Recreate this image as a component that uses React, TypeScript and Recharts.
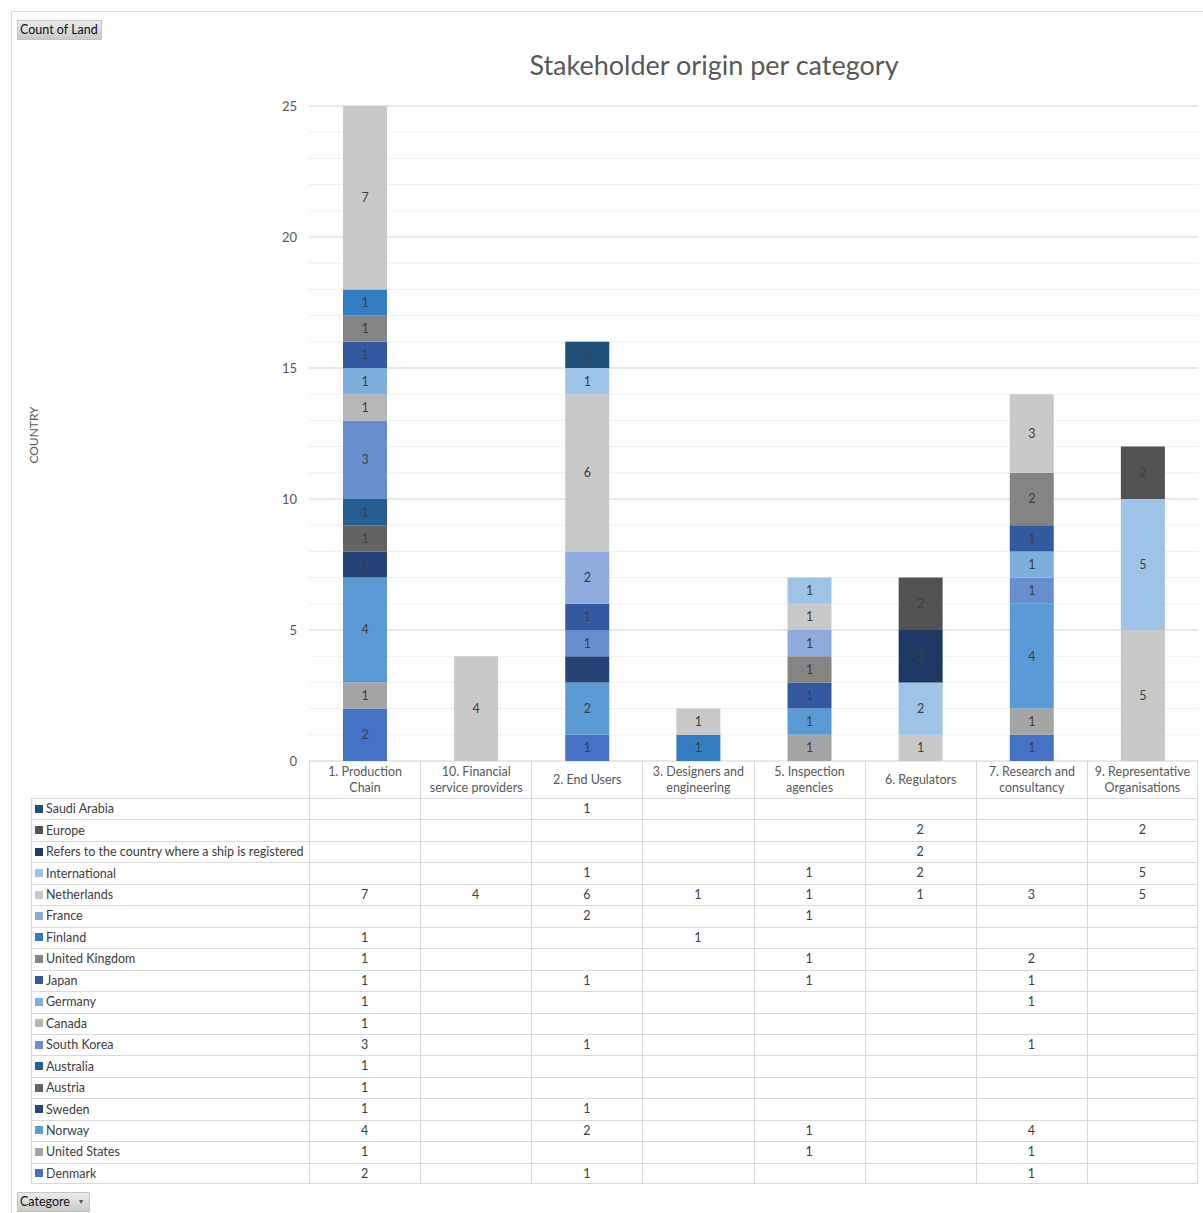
import React from 'react';
import { BarChart, Bar, XAxis, YAxis, CartesianGrid, LabelList } from 'recharts';

const categories = [
  '1. Production Chain',
  '10. Financial service providers',
  '2. End Users',
  '3. Designers and engineering',
  '5. Inspection agencies',
  '6. Regulators',
  '7. Research and consultancy',
  '9. Representative Organisations',
];
const categoryLines = [
  ['1. Production', 'Chain'],
  ['10. Financial', 'service providers'],
  ['2. End Users'],
  ['3. Designers and', 'engineering'],
  ['5. Inspection', 'agencies'],
  ['6. Regulators'],
  ['7. Research and', 'consultancy'],
  ['9. Representative', 'Organisations'],
];

// stacking order, bottom to top
const countries = [
  'Denmark', 'United States', 'Norway', 'Sweden', 'Austria', 'Australia', 'South Korea', 'Canada',
  'Germany', 'Japan', 'United Kingdom', 'Finland', 'France', 'Netherlands', 'International',
  'Refers to the country where a ship is registered', 'Europe', 'Saudi Arabia',
];
const colors = [
  '#4472C4', '#A5A5A5', '#5B9BD5', '#264478', '#636363', '#255E91', '#698ED0', '#B7B7B7',
  '#7CAFDD', '#335AA1', '#848484', '#327DC2', '#8FAADC', '#C9C9C9', '#9DC3E6',
  '#203864', '#525252', '#1F4E79',
];

const denmark = [2, 0, 1, 0, 0, 0, 1, 0];
const unitedStates = [1, 0, 0, 0, 1, 0, 1, 0];
const norway = [4, 0, 2, 0, 1, 0, 4, 0];
const sweden = [1, 0, 1, 0, 0, 0, 0, 0];
const austria = [1, 0, 0, 0, 0, 0, 0, 0];
const australia = [1, 0, 0, 0, 0, 0, 0, 0];
const southKorea = [3, 0, 1, 0, 0, 0, 1, 0];
const canada = [1, 0, 0, 0, 0, 0, 0, 0];
const germany = [1, 0, 0, 0, 0, 0, 1, 0];
const japan = [1, 0, 1, 0, 1, 0, 1, 0];
const unitedKingdom = [1, 0, 0, 0, 1, 0, 2, 0];
const finland = [1, 0, 0, 1, 0, 0, 0, 0];
const france = [0, 0, 2, 0, 1, 0, 0, 0];
const netherlands = [7, 4, 6, 1, 1, 1, 3, 5];
const international = [0, 0, 1, 0, 1, 2, 0, 5];
const flagState = [0, 0, 0, 0, 0, 2, 0, 0];
const europe = [0, 0, 0, 0, 0, 2, 0, 2];
const saudiArabia = [0, 0, 1, 0, 0, 0, 0, 0];

const seriesValues = [
  denmark, unitedStates, norway, sweden, austria, australia, southKorea, canada,
  germany, japan, unitedKingdom, finland, france, netherlands, international,
  flagState, europe, saudiArabia,
];

const yDomain = [0, 25];
const yTicks = [0, 5, 10, 15, 20, 25];
const minorTicks = Array.from({ length: 26 }, (_, i) => i);

const data = categories.map((c, ci) => {
  const row: any = { category: c };
  countries.forEach((k, si) => {
    row['s' + si] = seriesValues[si][ci];
  });
  return row;
});

const FONT = 'Lato, "Liberation Sans", sans-serif';
const W = 1203;
const PLOT_LEFT = 309;
const PLOT_RIGHT = 1198;
const PLOT_TOP = 106;
const PLOT_BOTTOM = 761;
const COL_W = (PLOT_RIGHT - PLOT_LEFT) / categories.length;
const HEADER_BOTTOM = 798;
const ROW_H = 21.45;
const TABLE_LEFT = 31;
const GRID = '#D9D9D9';

const btnStyle: React.CSSProperties = {
  position: 'absolute',
  background: 'linear-gradient(#ececec, #c9c9c9)',
  border: '1px solid #c4c4c4',
  fontSize: 12.5,
  color: '#111',
  lineHeight: '18px',
  paddingLeft: 2,
  boxSizing: 'border-box',
  height: 20,
};

const minorGenerator = (props: any) => {
  const scale = props && props.yAxis && props.yAxis.scale;
  const off = (props && props.offset) || {};
  return minorTicks.map((t) => {
    if (typeof scale === 'function') return scale(t);
    if (scale && typeof scale.map === 'function') return scale.map(t);
    if (scale && typeof scale.scale === 'function') return scale.scale(t);
    return off.top + off.height * (1 - (t - yDomain[0]) / (yDomain[1] - yDomain[0]));
  });
};

export default function App() {
  const rows = countries.map((_, i) => i).reverse();
  return (
    <div style={{ position: 'absolute', left: 0, top: 0, width: W, height: 1213, background: '#fff', fontFamily: FONT, overflow: 'hidden' }}>
      <div style={{ position: 'absolute', left: 11, top: 11, width: W - 11, height: 1213, borderTop: '1px solid ' + GRID, borderLeft: '1px solid ' + GRID }} />
      <div style={{ ...btnStyle, left: 17, top: 20, width: 85 }}>Count of Land</div>
      <div style={{ ...btnStyle, left: 17, top: 1192, width: 73 }}>
        Categore<span style={{ position: 'absolute', left: 61, top: -1, fontSize: 8, color: '#555' }}>▾</span>
      </div>
      <div style={{ position: 'absolute', left: 714 - 500, width: 1000, top: 48, textAlign: 'center', fontSize: 27, color: '#595959', whiteSpace: 'nowrap' }}>
        Stakeholder origin per category
      </div>
      <div style={{ position: 'absolute', left: 33, top: 435, transform: 'translate(-50%, -50%) rotate(-90deg)', fontSize: 12, color: '#595959', whiteSpace: 'nowrap' }}>
        COUNTRY
      </div>

      <div style={{ position: 'absolute', left: 0, top: 0 }}>
        <BarChart
          width={W}
          height={800}
          data={data}
          margin={{ top: PLOT_TOP, right: W - PLOT_RIGHT, bottom: 800 - PLOT_BOTTOM, left: 0 }}
          barSize={44}
        >
          <CartesianGrid vertical={false} stroke="#F0F0F0" horizontalCoordinatesGenerator={minorGenerator} syncWithTicks={false} />
          <CartesianGrid vertical={false} stroke={GRID} />
          <XAxis dataKey="category" hide />
          <YAxis
            domain={yDomain}
            ticks={yTicks}
            width={PLOT_LEFT}
            axisLine={false}
            tickLine={false}
            tickMargin={6}
            tick={{ fill: '#595959', fontSize: 13, fontFamily: FONT }}
          />
          {countries.map((name, si) => (
            <Bar key={name} dataKey={'s' + si} name={name} stackId="a" fill={colors[si]} isAnimationActive={false}>
              <LabelList
                dataKey={'s' + si}
                position="center"
                fill="#404040"
                fontSize={12.5}
                fontFamily={FONT}
                formatter={(v: any) => (v ? v : '')}
              />
            </Bar>
          ))}
        </BarChart>
      </div>

      {/* category header row */}
      {categoryLines.map((lines, ci) => (
        <div
          key={'h' + ci}
          style={{
            position: 'absolute',
            left: PLOT_LEFT + ci * COL_W,
            top: PLOT_BOTTOM,
            width: COL_W,
            height: HEADER_BOTTOM - PLOT_BOTTOM,
            boxSizing: 'border-box',
            borderLeft: '1px solid ' + GRID,
            borderRight: ci === categoryLines.length - 1 ? '1px solid ' + GRID : undefined,
            display: 'flex',
            flexDirection: 'column',
            alignItems: 'center',
            justifyContent: 'center',
            fontSize: 12.5,
            lineHeight: '16px',
            color: '#595959',
          }}
        >
          {lines.map((l, li) => (
            <div key={li} style={{ whiteSpace: 'nowrap' }}>{l}</div>
          ))}
        </div>
      ))}

      {/* data table */}
      <div
        style={{
          position: 'absolute',
          left: TABLE_LEFT,
          top: HEADER_BOTTOM,
          width: PLOT_RIGHT - TABLE_LEFT,
          height: ROW_H * rows.length,
          boxSizing: 'border-box',
          border: '1px solid ' + GRID,
        }}
      />
      {rows.map((si, ri) => (
        <React.Fragment key={'r' + si}>
          {ri > 0 && (
            <div style={{ position: 'absolute', left: TABLE_LEFT, top: HEADER_BOTTOM + ri * ROW_H, width: PLOT_RIGHT - TABLE_LEFT, height: 1, background: GRID }} />
          )}
          <div
            style={{
              position: 'absolute',
              left: TABLE_LEFT + 4,
              top: HEADER_BOTTOM + ri * ROW_H,
              height: ROW_H,
              display: 'flex',
              alignItems: 'center',
              fontSize: 12.5,
              color: '#404040',
              whiteSpace: 'nowrap',
            }}
          >
            <span style={{ display: 'inline-block', width: 8, height: 8, background: colors[si], marginRight: 3 }} />
            {countries[si]}
          </div>
          {seriesValues[si].map((v, ci) => (
            <div
              key={ci}
              style={{
                position: 'absolute',
                left: PLOT_LEFT + ci * COL_W,
                top: HEADER_BOTTOM + ri * ROW_H,
                width: COL_W,
                height: ROW_H,
                lineHeight: ROW_H + 'px',
                textAlign: 'center',
                fontSize: 12.5,
                color: '#404040',
              }}
            >
              {v ? v : ''}
            </div>
          ))}
        </React.Fragment>
      ))}
      {categories.map((_, ci) => (
        <div
          key={'v' + ci}
          style={{ position: 'absolute', left: PLOT_LEFT + ci * COL_W, top: HEADER_BOTTOM, width: 1, height: ROW_H * rows.length, background: GRID }}
        />
      ))}
    </div>
  );
}
